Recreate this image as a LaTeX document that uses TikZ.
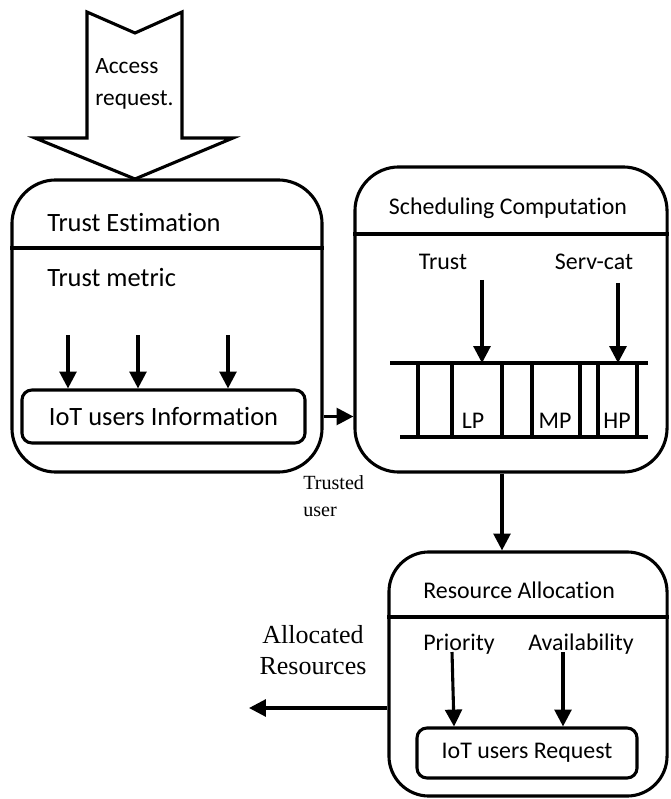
\documentclass[tikz,border=0pt]{standalone}
\usepackage{fontspec}
\setmainfont{Carlito}[Ligatures=NoCommon]
\newfontfamily\timesfont{Liberation Serif}
\usetikzlibrary{arrows.meta}
\usetikzlibrary{positioning}

\begin{document}
\begin{tikzpicture}[x=0.025cm, y=-0.025cm,
  panel/.style={rectangle, draw, line width=2.2pt, rounded corners=1.1cm},
  inbox/.style={rectangle, draw, line width=2.2pt, rounded corners=0.25cm},
  arrow/.style={line width=2.2pt, ->, >={Triangle[length=12pt,width=12pt]}},
  bar/.style={line width=2.2pt},
  lbl/.style={inner sep=0pt, font=\fontsize{17}{20}\selectfont},
  big/.style={inner sep=0pt, font=\fontsize{18.8}{22}\selectfont},
  note/.style={inner sep=0pt, align=left, font=\timesfont\fontsize{14.3}{19.2}\selectfont}]
\useasboundingbox (0,0) rectangle (670,799);

% access request arrow
\draw[bar] (87,12) -- (135,33) -- (182,12) -- (182,138) -- (233,138) -- (135,179) -- (35,138) -- (87,138) -- cycle;
\node[lbl, anchor=north west, align=left, font=\fontsize{16.6}{22.8}\selectfont] (access) at (95,58) {Access\\request.};

% trust estimation
\node[panel, minimum width=7.75cm, minimum height=7.3cm] (trust) at (167,326) {};
\coordinate (tline) at (0,248);
\draw[bar] (trust.west |- tline) -- (trust.east |- tline);
\node[big, anchor=west] (test) at (47,223) {Trust Estimation};
\node[big, anchor=west] (metric) at (47,278) {Trust metric};
\node[inbox, big, minimum width=7.075cm, minimum height=1.325cm] (info) at (163.5,416.5) {IoT users Information};
\foreach \x [count=\i] in {68,138,228} {
  \coordinate (m\i) at (\x,335);
  \draw[arrow] (m\i) -- (m\i |- info.north);
}

% scheduling computation
\node[panel, minimum width=7.8cm, minimum height=7.625cm] (sched) at (511,319.5) {};
\coordinate (sline) at (0,234);
\draw[bar] (sched.west |- sline) -- (sched.east |- sline);
\node[lbl] (stitle) at (508,208) {Scheduling Computation};
\node[lbl] (strust) at (443,262) {Trust};
\node[lbl] (scat) at (594,262) {Serv-cat};
% queue
\coordinate (qtop) at (390,363);
\coordinate (qbot) at (400,437);
\draw[bar] (qtop) -- (648,363);
\draw[bar] (qbot) -- (648,437);
\foreach \x in {418,452,502,532,580,598,637}
  \draw[bar] (\x,363) -- (\x,437);
\node[lbl] (lp) at (473,421) {LP};
\node[lbl] (mp) at (555,421) {MP};
\node[lbl] (hp) at (617,421) {HP};
\coordinate (s1) at (482,280);
\coordinate (s2) at (618,283);
\draw[arrow] (s1) -- (s1 |- qtop);
\draw[arrow] (s2) -- (s2 |- qtop);

\draw[arrow] (info.east -| trust.east) -- (info.east -| sched.west);
\node[note, anchor=north west] (tuser) at (303,475) {Trusted\\user};

% resource allocation
\node[panel, rounded corners=1cm, minimum width=6.95cm, minimum height=6.1cm] (res) at (528,674) {};
\coordinate (rline) at (0,617);
\draw[bar] (res.west |- rline) -- (res.east |- rline);
\node[lbl, anchor=west] (rtitle) at (423,590) {Resource Allocation};
\node[lbl, anchor=west] (prio) at (423,644) {Priority};
\node[lbl, anchor=west] (avail) at (528,644) {Availability};
\node[inbox, lbl, minimum width=5.5cm, minimum height=1.25cm] (req) at (527,753) {IoT users Request};
\coordinate (r1) at (452,652);
\coordinate (r1e) at (454,0);
\coordinate (r2) at (563,652);
\draw[arrow] (r1) -- (r1e |- req.north);
\draw[arrow] (r2) -- (r2 |- req.north);

\coordinate (drop) at (502,0);
\draw[arrow] (sched.south -| drop) -- (res.north -| drop);

\coordinate (out) at (249,708);
\draw[arrow] (res.west |- out) -- (out);
\node[note, align=center, font=\timesfont\fontsize{18.5}{22}\selectfont, anchor=north] (alloc) at (313,625) {Allocated\\Resources};
\end{tikzpicture}
\end{document}
